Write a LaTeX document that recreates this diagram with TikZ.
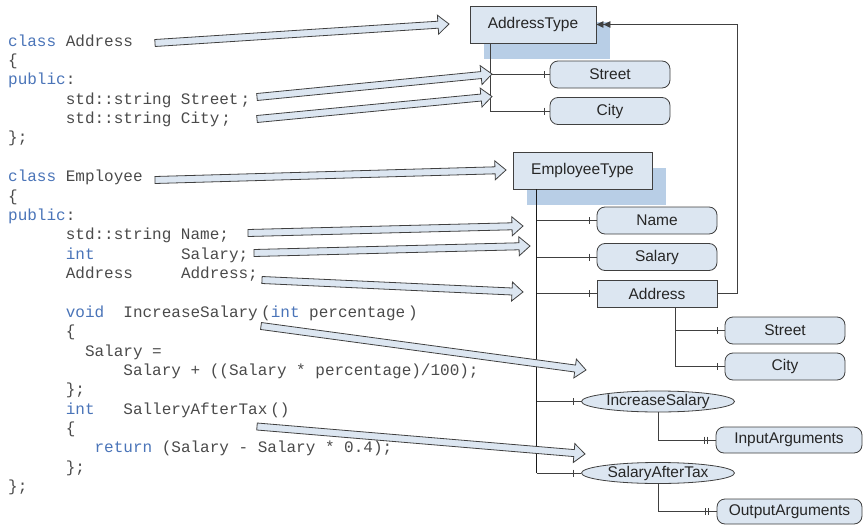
\documentclass[tikz,border=0pt]{standalone}
\usepackage{fontspec}
\setmainfont{Liberation Sans}
\newfontfamily\codefont{Liberation Mono}
\usetikzlibrary{calc,shapes.geometric,arrows.meta,shadows}
\definecolor{boxfill}{HTML}{DCE6F1}
\definecolor{shadowc}{HTML}{B8CEE6}
\definecolor{linec}{HTML}{404040}
\definecolor{kwc}{HTML}{4A74B8}
\definecolor{codec}{HTML}{4A4A4A}
\newcommand\kw[1]{\textcolor{kwc}{#1}}
\newcommand\cl[4]{\node[codetext] (#1) at ({8+9.6*#2},{46+19.38*#3}) {#4};}
\newcommand\cx[4]{\node[codetext] (#1) at ({#2},{46+19.38*#3}) {#4};}
\newcommand\blockarrow[2]{%
  \coordinate (hb) at ($(#2)!11pt!(#1)$);
  \draw[blockarr] ($(#1)!3.5pt!90:(#2)$) -- ($(hb)!3.5pt!90:(#2)$) -- ($(hb)!9.5pt!90:(#2)$) -- (#2)
    -- ($(hb)!9.5pt!-90:(#2)$) -- ($(hb)!3.5pt!-90:(#2)$) -- ($(#1)!3.5pt!-90:(#2)$) -- cycle;}
\newcommand\tickat[2]{\draw[treeline] ([xshift=-#1pt]#2.west) ++(0,-3.5) -- ++(0,7);}
\newcommand\dtickat[1]{\tickat{11}{#1}\tickat{8}{#1}}
\tikzset{
  codetext/.style={font=\codefont\fontsize{16}{19}\selectfont, text=codec, inner sep=0pt, anchor=base west},
  lbl/.style={font=\fontsize{15.5}{18}\selectfont, text=black!85, inner sep=0pt},
  cls/.style={lbl, draw=linec, line width=0.8pt, fill=boxfill, minimum height=37pt,
     drop shadow={shadow xshift=14pt, shadow yshift=-16pt, fill=shadowc, opacity=1}},
  attr/.style={lbl, draw=linec, line width=0.8pt, fill=boxfill, rounded corners=8pt, minimum width=120pt, minimum height=27pt},
  plainbox/.style={lbl, draw=linec, line width=0.8pt, fill=boxfill, minimum width=120pt, minimum height=27pt},
  meth/.style={lbl, ellipse, draw=linec, line width=0.8pt, fill=boxfill, minimum width=153pt, minimum height=21pt},
  treeline/.style={draw=linec, line width=0.8pt},
  mainline/.style={draw=black!90, line width=1.2pt},
  blockarr/.style={draw=linec, line width=0.8pt, fill=boxfill, line join=miter},
}
\begin{document}
\begin{tikzpicture}[x=1pt,y=-1pt]
\useasboundingbox (0,0) rectangle (863,525);
% code
\cl{r0}{0}{0}{\kw{class} Address}
\cl{r1}{0}{1}{\{}
\cl{r2}{0}{2}{\kw{public}:}
\cl{r3}{6}{3}{std::string Street\kern2pt;}
\cl{r4}{6}{4}{std::string City\kern2pt;}
\cl{r5}{0}{5}{\};}
\cl{r7}{0}{7}{\kw{class} Employee}
\cl{r8}{0}{8}{\{}
\cl{r9}{0}{9}{\kw{public}:}
\cl{r10}{6}{10}{std::string Name;}
\cl{r11a}{6}{11}{\kw{int}}
\cl{r11b}{18}{11}{Salary;}
\cl{r12a}{6}{12}{Address}
\cl{r12b}{18}{12}{Address;}
\cl{r14a}{6}{14}{\kw{void}}
\cl{r14b}{12}{14}{IncreaseSalary}
\cx{r14c}{261}{14}{(\kw{int} percentage\kern3pt)}
\cl{r15}{6}{15}{\{}
\cl{r16}{8}{16}{Salary =}
\cl{r17}{12}{17}{Salary + ((Salary * percentage)/100);}
\cl{r18}{6}{18}{\};}
\cl{r19a}{6}{19}{\kw{int}}
\cl{r19b}{12}{19}{SalleryAfterTax\kern3pt()}
\cl{r20}{6}{20}{\{}
\cl{r21}{9}{21}{\kw{return} (Salary - Salary * 0.4);}
\cl{r22}{6}{22}{\};}
\cl{r23}{0}{23}{\};}
% diagram nodes
\node[cls, minimum width=126pt] (AddressType) at (533,24.5) {AddressType};
\node[attr] (Street) at (610,74.5) {Street};
\node[attr] (City) at (610,111) {City};
\node[cls, minimum width=139pt] (EmployeeType) at (582.5,170.5) {EmployeeType};
\node[attr] (Name) at (657,220.5) {Name};
\node[attr] (Salary) at (657,257) {Salary};
\node[plainbox] (Address) at (657,293.5) {Address};
\node[attr] (Street2) at (785,330.5) {Street};
\node[attr] (City2) at (785,366.5) {City};
\node[meth] (IncreaseSalary) at (658,401.5) {IncreaseSalary};
\node[attr, minimum width=146pt, minimum height=26pt] (InputArguments) at (789,440) {InputArguments};
\node[meth] (SalaryAfterTax) at (658,473) {SalaryAfterTax};
\node[attr, minimum width=145pt, minimum height=25pt] (OutputArguments) at (789.5,511.5) {OutputArguments};
% AddressType tree
\coordinate (av) at ([xshift=21pt]AddressType.south west);
\draw[treeline] (av) |- (City.west);
\draw[treeline] (av |- Street.west) -- (Street.west);
\tickat{5}{Street}\tickat{5}{City}
% EmployeeType tree
\coordinate (ev) at ([xshift=24pt]EmployeeType.south west);
\foreach \n in {Name,Salary,Address,IncreaseSalary}
  \draw[treeline] (ev |- \n.west) -- (\n.west);
\draw[treeline] (ev |- SalaryAfterTax.west) -- (SalaryAfterTax.west);
\draw[mainline] (ev) -- (ev |- SalaryAfterTax.west);
\tickat{7}{Name}\tickat{7}{Salary}\tickat{7}{Address}
\tickat{8}{IncreaseSalary}\tickat{8}{SalaryAfterTax}
% Address subtree
\coordinate (adv) at ([xshift=79pt]Address.south west);
\draw[treeline] (adv) |- (City2.west);
\draw[treeline] (adv |- Street2.west) -- (Street2.west);
\tickat{7}{Street2}\tickat{7}{City2}
% methods
\draw[treeline] (IncreaseSalary.south) |- (InputArguments.west);
\draw[treeline] (SalaryAfterTax.south) |- (OutputArguments.west);
\dtickat{InputArguments}\dtickat{OutputArguments}
% type reference
\coordinate (fbx) at (737,0);
\draw[treeline, -{Triangle[length=7pt,width=6.5pt]Triangle[length=7pt,width=6.5pt]}]
  (Address.east) -- (Address.east -| fbx) -- (AddressType.east -| fbx) -- (AddressType.east);
% block arrows
\coordinate (t1) at (155,43);  \coordinate (h1) at (449,24);
\coordinate (t2) at (257,97);  \coordinate (h2) at (492,74);
\coordinate (t3) at (257,119); \coordinate (h3) at (492,96.5);
\coordinate (t4) at (155,180); \coordinate (h4) at (506,170);
\coordinate (t5) at (248,233); \coordinate (h5) at (523,226);
\coordinate (t6) at (254,253); \coordinate (h6) at (530,246);
\coordinate (t7) at (262,280); \coordinate (h7) at (523,292);
\coordinate (t8) at (261,326); \coordinate (h8) at (586,370);
\coordinate (t9) at (257,426.5); \coordinate (h9) at (585,454);
\blockarrow{t1}{h1}\blockarrow{t2}{h2}\blockarrow{t3}{h3}
\blockarrow{t4}{h4}\blockarrow{t5}{h5}\blockarrow{t6}{h6}
\blockarrow{t7}{h7}\blockarrow{t8}{h8}\blockarrow{t9}{h9}
\end{tikzpicture}
\end{document}
